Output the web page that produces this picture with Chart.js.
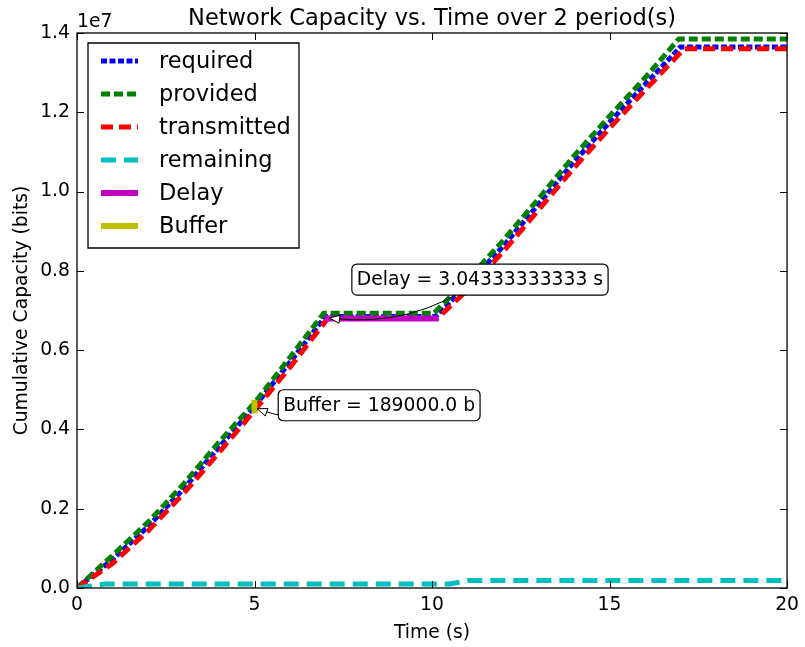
<!DOCTYPE html>
<html>
<head>
<meta charset="utf-8">
<script src="https://cdn.jsdelivr.net/npm/chart.js@4.4.0/dist/chart.umd.min.js"></script>
<style>
  html, body { margin: 0; padding: 0; background: #fff; }
</style>
</head>
<body>
<canvas id="chartKapasitas" width="805" height="647"></canvas>
<script>
// data (waktu dalam detik, kapasitas dalam bit)
const timeRequired = [0, 1, 2, 3, 4, 5, 6, 7, 10.1, 11, 12, 13, 14, 15, 16, 17, 20];
const required = [0, 0.72e6, 1.55e6, 2.5e6, 3.55e6, 4.58e6, 5.7e6, 6.85e6, 6.85e6,
  7.65e6, 8.62e6, 9.68e6, 10.75e6, 11.75e6, 12.7e6, 13.65e6, 13.65e6];

const timeProvided = [0, 1, 2, 3, 4, 5, 6, 6.95, 10.05, 11, 12, 13, 14, 15, 16, 16.95, 20];
const provided = [0, 0.82e6, 1.66e6, 2.62e6, 3.68e6, 4.669e6, 5.82e6, 6.93e6, 6.93e6,
  7.78e6, 8.76e6, 9.82e6, 10.9e6, 11.9e6, 12.87e6, 13.85e6, 13.85e6];

const timeTransmitted = [0, 1, 2, 3, 4, 5, 6, 7.06, 10.15, 11, 12, 13, 14, 15, 16, 17.1, 20];
const transmitted = [0, 0.62e6, 1.44e6, 2.38e6, 3.42e6, 4.48e6, 5.57e6, 6.8e6, 6.8e6,
  7.52e6, 8.48e6, 9.54e6, 10.6e6, 11.6e6, 12.56e6, 13.6e6, 13.6e6];

const timeRemaining = [0, 0.8, 10.5, 11, 20];
const remaining = [0, 0.1e6, 0.1e6, 0.19e6, 0.19e6];

const timeDelay = [7.06, 10.1];
const delay = [6.8e6, 6.8e6];

const timeBuffer = [5, 5];
const buffer = [4.48e6, 4.669e6];

const xTicks = [0, 5, 10, 15, 20];
const yTicks = [0, 0.2e7, 0.4e7, 0.6e7, 0.8e7, 1.0e7, 1.2e7, 1.4e7];

// catatan: posisi teks dan titik yang ditunjuk (koordinat data)
const annotations = [
  { text: 'Delay = 3.04333333333 s', x: 11.35, y: 7.78e6, tx: 7.06, ty: 6.8e6 },
  { text: 'Buffer = 189000.0 b', x: 8.51, y: 4.61e6, tx: 5.02, ty: 4.52e6 }
];

const FONT = 'DejaVu Sans';
Chart.defaults.font.family = FONT;
Chart.defaults.color = '#000';

function pasangkan(xs, ys) {
  return xs.map((v, i) => ({ x: v, y: ys[i] }));
}

function garis(ctx, x1, y1, x2, y2) {
  ctx.beginPath();
  ctx.moveTo(x1, y1);
  ctx.lineTo(x2, y2);
  ctx.stroke();
}

const gayaPlot = {
  id: 'gayaPlot',
  afterDraw(chart) {
    const { ctx, chartArea: a, scales: { x, y } } = chart;
    ctx.save();

    // bingkai + tick ke dalam
    ctx.strokeStyle = '#000';
    ctx.lineWidth = 1.3;
    ctx.setLineDash([]);
    ctx.strokeRect(a.left, a.top, a.right - a.left, a.bottom - a.top);
    ctx.lineWidth = 1;
    xTicks.forEach(v => {
      const px = Math.round(x.getPixelForValue(v)) + 0.5;
      garis(ctx, px, a.bottom, px, a.bottom - 7);
      garis(ctx, px, a.top, px, a.top + 7);
    });
    yTicks.forEach(v => {
      const py = Math.round(y.getPixelForValue(v)) + 0.5;
      garis(ctx, a.left, py, a.left + 7, py);
      garis(ctx, a.right, py, a.right - 7, py);
    });

    // judul dan faktor skala
    ctx.fillStyle = '#000';
    ctx.font = '22.5px "' + FONT + '"';
    ctx.textAlign = 'center';
    ctx.textBaseline = 'alphabetic';
    ctx.fillText('Network Capacity vs. Time over 2 period(s)', (a.left + a.right) / 2, a.top - 8);
    ctx.font = '18.75px "' + FONT + '"';
    ctx.textAlign = 'left';
    ctx.fillText('1e7', a.left, a.top - 6);

    // anotasi dengan panah melengkung
    ctx.font = '18.75px "' + FONT + '"';
    annotations.forEach(an => {
      const cx = x.getPixelForValue(an.x), cy = y.getPixelForValue(an.y);
      let ex = x.getPixelForValue(an.tx), ey = y.getPixelForValue(an.ty);
      const dx = ex - cx, dy = ey - cy;
      const len = Math.hypot(dx, dy);
      ex -= dx / len * 2; ey -= dy / len * 2;
      const kx = (cx + ex) / 2 + 0.2 * (ey - cy);
      const ky = (cy + ey) / 2 - 0.2 * (ex - cx);
      ctx.strokeStyle = '#000';
      ctx.lineWidth = 1;
      ctx.beginPath();
      ctx.moveTo(cx, cy);
      ctx.quadraticCurveTo(kx, ky, ex, ey);
      ctx.stroke();
      // kepala panah
      const ang = Math.atan2(ey - ky, ex - kx);
      const hl = 10, hw = 4;
      const bx = ex - Math.cos(ang) * hl, by = ey - Math.sin(ang) * hl;
      ctx.beginPath();
      ctx.moveTo(ex, ey);
      ctx.lineTo(bx - Math.sin(ang) * hw, by + Math.cos(ang) * hw);
      ctx.lineTo(bx + Math.sin(ang) * hw, by - Math.cos(ang) * hw);
      ctx.closePath();
      ctx.fillStyle = '#fff';
      ctx.fill();
      ctx.stroke();
      // kotak teks
      const tw = ctx.measureText(an.text).width;
      const bw = tw + 10, bh = 31;
      ctx.beginPath();
      ctx.roundRect(cx - bw / 2, cy - bh / 2, bw, bh, 5);
      ctx.fillStyle = '#fff';
      ctx.fill();
      ctx.lineWidth = 1.2;
      ctx.stroke();
      ctx.fillStyle = '#000';
      ctx.textAlign = 'center';
      ctx.textBaseline = 'middle';
      ctx.fillText(an.text, cx, cy + 1);
    });

    // legenda di dalam area plot
    const lx = a.left + 11, ly = a.top + 10;
    ctx.beginPath();
    ctx.rect(lx, ly, 211, 205);
    ctx.fillStyle = '#fff';
    ctx.fill();
    ctx.strokeStyle = '#000';
    ctx.lineWidth = 1.3;
    ctx.stroke();
    ctx.font = '22.5px "' + FONT + '"';
    ctx.textAlign = 'left';
    ctx.textBaseline = 'middle';
    chart.data.datasets.forEach((ds, i) => {
      const ry = ly + 18 + i * 33;
      ctx.strokeStyle = ds.borderColor;
      ctx.lineWidth = ds.borderWidth;
      ctx.setLineDash(ds.borderDash || []);
      ctx.lineCap = 'butt';
      garis(ctx, lx + 13, ry, lx + 50, ry);
      ctx.setLineDash([]);
      ctx.fillStyle = '#000';
      ctx.fillText(ds.label, lx + 71, ry + 1);
    });

    ctx.restore();
  }
};

const seri = [
  { label: 'required', xs: timeRequired, ys: required, color: '#0000ff', dash: [6, 2.5], width: 5, order: 6 },
  { label: 'provided', xs: timeProvided, ys: provided, color: '#008000', dash: [9, 4], width: 5, order: 5 },
  { label: 'transmitted', xs: timeTransmitted, ys: transmitted, color: '#ff0000', dash: [12, 6], width: 5, order: 4 },
  { label: 'remaining', xs: timeRemaining, ys: remaining, color: '#00bfbf', dash: [15, 8], width: 5, order: 3 },
  { label: 'Delay', xs: timeDelay, ys: delay, color: '#bf00bf', dash: [], width: 6, order: 2 },
  { label: 'Buffer', xs: timeBuffer, ys: buffer, color: '#bfbf00', dash: [], width: 6, order: 1 }
];

new Chart(document.getElementById('chartKapasitas'), {
  type: 'line',
  data: {
    datasets: seri.map(s => ({
      label: s.label,
      data: pasangkan(s.xs, s.ys),
      borderColor: s.color,
      backgroundColor: s.color,
      borderWidth: s.width,
      borderDash: s.dash,
      borderCapStyle: s.dash.length ? 'butt' : 'square',
      pointRadius: 0,
      tension: 0,
      fill: false,
      order: s.order
    }))
  },
  options: {
    responsive: false,
    animation: false,
    devicePixelRatio: 1,
    layout: { padding: { left: 0, right: 15, top: 33, bottom: 0 } },
    plugins: {
      legend: { display: false },
      title: { display: false },
      tooltip: { enabled: false }
    },
    scales: {
      x: {
        type: 'linear',
        min: 0,
        max: 20,
        afterBuildTicks: s => { s.ticks = xTicks.map(v => ({ value: v })); },
        ticks: { font: { size: 18.75 }, color: '#000', padding: 6, maxRotation: 0,
          callback: v => String(v) },
        grid: { display: false, drawTicks: false },
        border: { display: false },
        title: { display: true, text: 'Time (s)', font: { size: 18.75 }, color: '#000',
          padding: { top: 0, bottom: 3 } },
        afterFit: s => { s.height = 59; }
      },
      y: {
        type: 'linear',
        min: 0,
        max: 1.4e7,
        afterBuildTicks: s => { s.ticks = yTicks.map(v => ({ value: v })); },
        ticks: { font: { size: 18.75 }, color: '#000', padding: 7,
          callback: v => (v / 1e7).toFixed(1) },
        grid: { display: false, drawTicks: false },
        border: { display: false },
        title: { display: true, text: 'Cumulative Capacity (bits)', font: { size: 18.75 }, color: '#000',
          padding: { top: 11, bottom: 0 } },
        afterFit: s => { s.width = 77; }
      }
    }
  },
  plugins: [gayaPlot]
});
</script>
</body>
</html>
